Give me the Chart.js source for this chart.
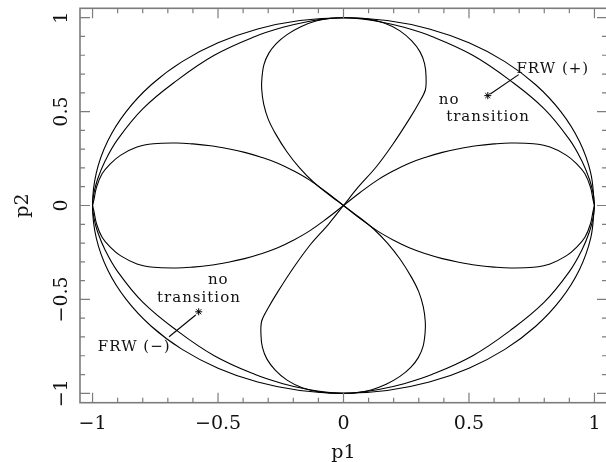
<!DOCTYPE html>
<html>
<head>
<meta charset="utf-8">
<script src="https://cdn.jsdelivr.net/npm/chart.js@4.4.0/dist/chart.umd.min.js"></script>
<style>
  html, body { margin: 0; padding: 0; background: #fff; overflow: hidden; }
  canvas { display: block; }
</style>
</head>
<body>
<canvas id="chart" width="612" height="462"></canvas>
<script>
// axis ticks
const majorTicks = [-1, -0.5, 0, 0.5, 1];
const tickLabels = ["\u22121", "\u22120.5", "0", "0.5", "1"];
const minorTicks = [-1, -0.9, -0.8, -0.7, -0.6, -0.5, -0.4, -0.3, -0.2, -0.1, 0,
                    0.1, 0.2, 0.3, 0.4, 0.5, 0.6, 0.7, 0.8, 0.9, 1];

// curves, [p1, p2]
const outerCircle = [
  [1,0],[0.985,0.174],[0.94,0.342],[0.866,0.5],[0.766,0.643],[0.643,0.766],[0.5,0.866],[0.342,0.94],[0.174,0.985],[0,1],
  [-0.174,0.985],[-0.342,0.94],[-0.5,0.866],[-0.643,0.766],[-0.766,0.643],[-0.866,0.5],[-0.94,0.342],[-0.985,0.174],[-1,0],
  [-0.985,-0.174],[-0.94,-0.342],[-0.866,-0.5],[-0.766,-0.643],[-0.643,-0.766],[-0.5,-0.866],[-0.342,-0.94],[-0.174,-0.985],[0,-1],
  [0.174,-0.985],[0.342,-0.94],[0.5,-0.866],[0.643,-0.766],[0.766,-0.643],[0.866,-0.5],[0.94,-0.342],[0.985,-0.174],[1,0]
];

const innerCurve = [
  [1,0],[0.995,0.063],[0.98,0.14],[0.95,0.237],[0.9,0.352],[0.8,0.515],[0.665,0.665],[0.515,0.8],[0.352,0.9],[0.237,0.95],[0.14,0.98],[0.063,0.995],[0,1],
  [-0.063,0.995],[-0.14,0.98],[-0.237,0.95],[-0.352,0.9],[-0.515,0.8],[-0.665,0.665],[-0.8,0.515],[-0.9,0.352],[-0.95,0.237],[-0.98,0.14],[-0.995,0.063],[-1,0],
  [-0.995,-0.063],[-0.98,-0.14],[-0.95,-0.237],[-0.9,-0.352],[-0.8,-0.515],[-0.665,-0.665],[-0.515,-0.8],[-0.352,-0.9],[-0.237,-0.95],[-0.14,-0.98],[-0.063,-0.995],[0,-1],
  [0.063,-0.995],[0.14,-0.98],[0.237,-0.95],[0.352,-0.9],[0.515,-0.8],[0.665,-0.665],[0.8,-0.515],[0.9,-0.352],[0.95,-0.237],[0.98,-0.14],[0.995,-0.063],[1,0]
];

const lobeRight = [
  [0,0],[0.065,0.068],[0.135,0.135],[0.2,0.185],[0.262,0.225],[0.328,0.257],[0.394,0.283],[0.46,0.302],[0.53,0.318],[0.6,0.328],
  [0.665,0.333],[0.757,0.329],[0.823,0.311],[0.889,0.267],[0.929,0.222],[0.962,0.169],[0.984,0.098],[0.995,0.027],[1,0],
  [0.995,-0.027],[0.984,-0.098],[0.962,-0.169],[0.929,-0.222],[0.889,-0.267],[0.823,-0.311],[0.757,-0.329],[0.665,-0.333],
  [0.6,-0.328],[0.53,-0.318],[0.46,-0.302],[0.394,-0.283],[0.328,-0.257],[0.262,-0.225],[0.2,-0.185],[0.135,-0.135],[0.065,-0.068],[0,0]
];

const lobeLeft = [
  [0,0],[-0.065,0.068],[-0.135,0.135],[-0.2,0.185],[-0.262,0.225],[-0.328,0.257],[-0.394,0.283],[-0.46,0.302],[-0.53,0.318],[-0.6,0.328],
  [-0.665,0.333],[-0.757,0.329],[-0.823,0.311],[-0.889,0.267],[-0.929,0.222],[-0.962,0.169],[-0.984,0.098],[-0.995,0.027],[-1,0],
  [-0.995,-0.027],[-0.984,-0.098],[-0.962,-0.169],[-0.929,-0.222],[-0.889,-0.267],[-0.823,-0.311],[-0.757,-0.329],[-0.665,-0.333],
  [-0.6,-0.328],[-0.53,-0.318],[-0.46,-0.302],[-0.394,-0.283],[-0.328,-0.257],[-0.262,-0.225],[-0.2,-0.185],[-0.135,-0.135],[-0.065,-0.068],[0,0]
];

// upper petal: steep right edge, rounder left edge
const lobeTop = [
  [0,0],[0.06,0.1],[0.13,0.205],[0.196,0.325],[0.262,0.46],[0.302,0.55],[0.326,0.615],[0.329,0.685],[0.323,0.756],
  [0.305,0.818],[0.272,0.876],[0.225,0.93],[0.162,0.972],[0.085,0.995],[0,1],
  [-0.05,0.997],[-0.11,0.982],[-0.17,0.952],[-0.225,0.91],[-0.268,0.862],[-0.298,0.81],[-0.317,0.75],[-0.325,0.68],
  [-0.326,0.62],[-0.318,0.54],[-0.3,0.46],[-0.27,0.38],[-0.225,0.285],[-0.175,0.2],[-0.12,0.125],[-0.06,0.06],[0,0]
];

const lobeBottom = [
  [0,0],[0.06,-0.06],[0.12,-0.125],[0.175,-0.2],[0.225,-0.285],[0.27,-0.38],[0.3,-0.46],[0.318,-0.54],[0.326,-0.62],
  [0.325,-0.68],[0.317,-0.75],[0.298,-0.81],[0.268,-0.862],[0.225,-0.91],[0.17,-0.952],[0.11,-0.982],[0.05,-0.997],[0,-1],
  [-0.085,-0.995],[-0.162,-0.972],[-0.225,-0.93],[-0.272,-0.876],[-0.305,-0.818],[-0.323,-0.756],[-0.329,-0.685],
  [-0.326,-0.615],[-0.302,-0.55],[-0.262,-0.46],[-0.196,-0.325],[-0.13,-0.205],[-0.06,-0.1],[0,0]
];

// marked points and their pointers
const starPoints = [[0.575, 0.585], [-0.577, -0.566]];
const pointerPlus = [[0.585, 0.594], [0.698, 0.697]];
const pointerMinus = [[-0.589, -0.583], [-0.695, -0.699]];

// text notes: label, p1 (centre), p2 (baseline)
const notes = [
  ["FRW (+)", 0.834, 0.708],
  ["no", 0.421, 0.542],
  ["transition", 0.576, 0.452],
  ["no", -0.499, -0.418],
  ["transition", -0.576, -0.514],
  ["FRW (\u2212)", -0.834, -0.775],
];

const toXY = pts => pts.map(([p1, p2]) => ({ x: p1, y: p2 }));

function curve(pts, tension) {
  return {
    data: toXY(pts),
    borderColor: "#000",
    borderWidth: 1.1,
    pointRadius: 0,
    tension,
    fill: false,
  };
}

const SERIF = '"DejaVu Serif", "Liberation Serif", serif';

const frame = {
  id: "frame",
  afterDatasetsDraw(chart) {
    const { ctx, chartArea: a, scales: { x, y } } = chart;
    ctx.save();

    // box
    ctx.strokeStyle = "#7c7c7c";
    ctx.lineWidth = 1.6;
    ctx.strokeRect(a.left, a.top, a.right - a.left, a.bottom - a.top);

    // inward ticks on all four sides
    ctx.lineWidth = 1.2;
    ctx.beginPath();
    minorTicks.forEach(v => {
      const len = majorTicks.includes(v) ? 10 : 5;
      const px = x.getPixelForValue(v), py = y.getPixelForValue(v);
      ctx.moveTo(px, a.bottom); ctx.lineTo(px, a.bottom - len);
      ctx.moveTo(px, a.top);    ctx.lineTo(px, a.top + len);
      ctx.moveTo(a.left, py);   ctx.lineTo(a.left + len, py);
      ctx.moveTo(a.right, py);  ctx.lineTo(a.right - len, py);
    });
    ctx.stroke();

    // tick labels
    ctx.fillStyle = "#111";
    ctx.font = "19px " + SERIF;
    ctx.textAlign = "center";
    ctx.textBaseline = "alphabetic";
    majorTicks.forEach((v, i) => {
      ctx.fillText(tickLabels[i], x.getPixelForValue(v), a.bottom + 26.6);
      ctx.save();
      ctx.translate(a.left - 13.5, y.getPixelForValue(v));
      ctx.rotate(-Math.PI / 2);
      ctx.fillText(tickLabels[i], 0, 0);
      ctx.restore();
    });

    // axis titles
    ctx.fillText("p1", x.getPixelForValue(0), a.bottom + 55);
    ctx.save();
    ctx.translate(a.left - 52, y.getPixelForValue(0));
    ctx.rotate(-Math.PI / 2);
    ctx.fillText("p2", 0, 0);
    ctx.restore();

    // notes
    ctx.font = "15px " + SERIF;
    if ("letterSpacing" in ctx) ctx.letterSpacing = "1px";
    notes.forEach(([t, p1, p2]) => {
      ctx.fillText(t, x.getPixelForValue(p1), y.getPixelForValue(p2));
    });

    ctx.restore();
  }
};

const datasets = [
  curve(outerCircle, 0.4),
  curve(innerCurve, 0.4),
  curve(lobeRight, 0.4),
  curve(lobeLeft, 0.4),
  curve(lobeTop, 0.35),
  curve(lobeBottom, 0.35),
  curve(pointerPlus, 0),
  curve(pointerMinus, 0),
  {
    data: toXY(starPoints),
    showLine: false,
    pointStyle: "star",
    pointRadius: 3.5,
    borderColor: "#000",
    borderWidth: 1,
  },
];

new Chart(document.getElementById("chart").getContext("2d"), {
  type: "line",
  data: { datasets },
  options: {
    responsive: false,
    animation: false,
    events: [],
    layout: { padding: { left: 80, top: 8.3, right: 1.4, bottom: 59.3 } },
    plugins: { legend: { display: false }, tooltip: { enabled: false } },
    scales: {
      x: { type: "linear", min: -1.05, max: 1.05, display: false },
      y: { type: "linear", min: -1.05, max: 1.05, display: false },
    },
  },
  plugins: [frame],
});
</script>
</body>
</html>
